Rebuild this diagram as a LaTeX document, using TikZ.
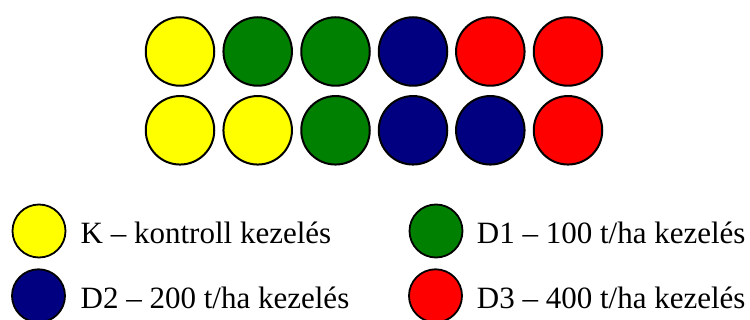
\documentclass[tikz,border=0pt]{standalone}
\usepackage{fontspec}
\setmainfont{Liberation Serif}
\definecolor{cyellow}{HTML}{FFFF00}
\definecolor{cgreen}{HTML}{008000}
\definecolor{cnavy}{HTML}{000080}
\definecolor{cred}{HTML}{FF0000}
\begin{document}
\begin{tikzpicture}[x=1pt,y=-1pt,
  plot/.style={circle,draw=black,line width=2pt,minimum size=68.5pt,inner sep=0pt},
  leg/.style={circle,draw=black,line width=1.8pt,minimum size=53pt,inner sep=0pt},
  lab/.style={anchor=base west,inner sep=0pt,font=\fontsize{31}{36}\selectfont}]
\useasboundingbox (0,0) rectangle (750,320);
% top row
\node[plot,fill=cyellow] (a1) at (180,51.5) {};
\node[plot,fill=cgreen]  (a2) at (257.7,51.5) {};
\node[plot,fill=cgreen]  (a3) at (335.5,51.5) {};
\node[plot,fill=cnavy]   (a4) at (413,51.5) {};
\node[plot,fill=cred]    (a5) at (490.3,51.5) {};
\node[plot,fill=cred]    (a6) at (568,51.5) {};
% bottom row
\node[plot,fill=cyellow] (b1) at (180,130.3) {};
\node[plot,fill=cyellow] (b2) at (257.7,130.3) {};
\node[plot,fill=cgreen]  (b3) at (335.5,130.3) {};
\node[plot,fill=cnavy]   (b4) at (413,130.3) {};
\node[plot,fill=cnavy]   (b5) at (490.3,130.3) {};
\node[plot,fill=cred]    (b6) at (568,130.3) {};
% legend
\node[leg,fill=cyellow] (lk) at (39,231) {};
\node[lab] (tk) at (80.5,243.3) {K – kontroll kezelés};
\node[leg,fill=cnavy] (l2) at (38.5,295.8) {};
\node[lab] (t2) at (80.5,308.3) {D2 – 200 t/ha kezelés};
\node[leg,fill=cgreen] (l1) at (436,231) {};
\node[lab] (t1) at (476.7,243.3) {D1 – 100 t/ha kezelés};
\node[leg,fill=cred] (l3) at (435.5,295.8) {};
\node[lab] (t3) at (476.7,308.3) {D3 – 400 t/ha kezelés};
\end{tikzpicture}
\end{document}
